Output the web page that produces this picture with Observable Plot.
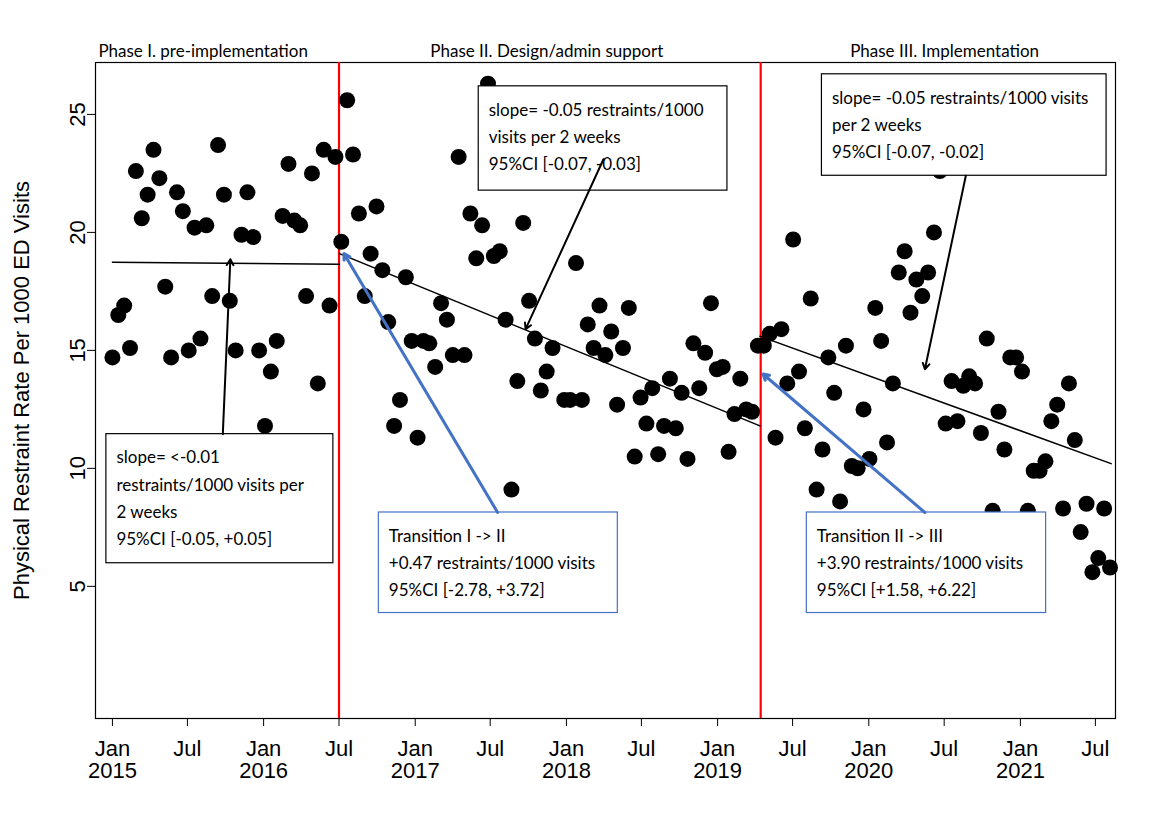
<!DOCTYPE html>
<html><head><meta charset="utf-8">
<script src="https://cdn.jsdelivr.net/npm/d3@7"></script>
<script src="https://cdn.jsdelivr.net/npm/@observablehq/plot@0.6"></script>
<style>body{margin:0;background:#fff}</style>
</head><body><div id="chart"></div>
<script>
const startDate = "2015-01-01";
const stepHours = 340;
const phase1 = [14.7,16.5,16.9,15.1,22.6,20.6,21.6,23.5,22.3,17.7,14.7,21.7,20.9,15.0,20.2,15.5,20.3,17.3,23.7,21.6,17.1,15.0,19.9,21.7,19.8,15.0,11.8,14.1,15.4,20.7,22.9,20.5,20.3,17.3,22.5,13.6,23.5,16.9,23.2];
const phase2 = [19.6,25.6,23.3,20.8,17.3,19.1,21.1,18.4,16.2,11.8,12.9,18.1,15.4,11.3,15.4,15.3,14.3,17.0,16.3,14.8,23.2,14.8,20.8,18.9,20.3,26.3,19.0,19.2,16.3,9.1,13.7,20.4,17.1,15.5,13.3,14.1,15.1,7.0,12.9,12.9,18.7,12.9,16.1,15.1,16.9,14.8,15.8,12.7,15.1,16.8,10.5,13.0,11.9,13.4,10.6,11.8,13.8,11.7,13.2,10.4,15.3,13.4,14.9,17.0,14.2,14.3,10.7,12.3,13.8,12.5,12.4];
const phase3 = [15.2,15.2,15.7,11.3,15.9,13.6,19.7,14.1,11.7,17.2,9.1,10.8,14.7,13.2,8.6,15.2,10.1,10.0,12.5,10.4,16.8,15.4,11.1,13.6,18.3,19.2,16.6,18.0,17.3,18.3,20.0,22.6,11.9,13.7,12.0,13.5,13.9,13.6,11.5,15.5,8.2,12.4,10.8,14.7,14.7,14.1,8.2,9.9,9.9,10.3,12.0,12.7,8.3,13.6,11.2,7.3,8.5,5.6,6.2,8.3,5.8];
const phaseChanges = ["2016-07-01","2019-04-15"];
const trendLines = [
  {seg:1, pts:[[2015.0,18.74],[2016.5,18.65]]},
  {seg:2, pts:[[2016.5,19.1],[2019.28,11.8]]},
  {seg:3, pts:[[2019.28,15.6],[2021.6,10.2]]}
];
const phaseLabels = [
  {x:2015.60, text:"Phase I. pre-implementation"},
  {x:2017.87, text:"Phase II. Design/admin support"},
  {x:2020.50, text:"Phase III. Implementation"}
];
const boxes = [
  {x1:2014.96,x2:2016.46,y1:11.45,y2:5.98,stroke:"black",lines:["slope= <-0.01","restraints/1000 visits per","2 weeks","95%CI [-0.05, +0.05]"]},
  {x1:2017.42,x2:2019.065,y1:26.19,y2:21.77,stroke:"black",lines:["slope= -0.05 restraints/1000","visits per 2 weeks","95%CI [-0.07, -0.03]"]},
  {x1:2019.69,x2:2021.57,y1:26.7,y2:22.4,stroke:"black",lines:["slope= -0.05 restraints/1000 visits","per 2 weeks","95%CI [-0.07, -0.02]"]},
  {x1:2016.76,x2:2018.34,y1:8.13,y2:3.87,stroke:"#4472C4",lines:["Transition I -> II","+0.47 restraints/1000 visits","95%CI [-2.78, +3.72]"]},
  {x1:2019.59,x2:2021.17,y1:8.13,y2:3.87,stroke:"#4472C4",lines:["Transition II -> III","+3.90 restraints/1000 visits","95%CI [+1.58, +6.22]"]}
];
const arrows = [
  {x1:2015.73,y1:11.45,x2:2015.78,y2:18.86,stroke:"black",w:2},
  {x1:2018.245,y1:23.1,x2:2017.73,y2:15.9,stroke:"black",w:2},
  {x1:2020.64,y1:22.4,x2:2020.37,y2:14.2,stroke:"black",w:2},
  {x1:2017.545,y1:8.13,x2:2016.53,y2:19.1,stroke:"#4472C4",w:3},
  {x1:2020.37,y1:8.13,x2:2019.30,y2:14.0,stroke:"#4472C4",w:3}
];
const yTicks = [5,10,15,20,25];

function dy(yr){const y=Math.floor(yr);const a=Date.UTC(y,0,1),b=Date.UTC(y+1,0,1);return new Date(a+(yr-y)*(b-a));}
const all = [...phase1,...phase2,...phase3];
const start = new Date(startDate+"T00:00:00Z");
const points = all.map((v,i)=>({date:d3.utcHour.offset(start,stepHours*i),value:v}));
const trend = trendLines.flatMap(t=>t.pts.map(p=>({seg:t.seg,date:dy(p[0]),value:p[1]})));
const xTicks = d3.utcMonth.every(6).range(new Date(Date.UTC(2015,0,1)),new Date(Date.UTC(2021,8,1)));
const fmt = d=>d.getUTCMonth()===0?`Jan\n${d.getUTCFullYear()}`:"Jul";

const chart = Plot.plot({
  width:1160,height:816,
  marginLeft:95,marginRight:45,marginTop:62,marginBottom:98,
  style:{fontFamily:"Liberation Sans, Arial, sans-serif",fontSize:"22px",background:"white"},
  x:{type:"utc",domain:[dy(2014.888),dy(2021.629)],ticks:xTicks,tickFormat:fmt,label:null,tickSize:8,tickPadding:14},
  y:{domain:[-0.6,27.2],ticks:yTicks,label:"Physical Restraint Rate Per 1000 ED Visits",labelAnchor:"center",labelArrow:"none",tickRotate:-90,tickSize:8,labelOffset:82},
  marks:[
    Plot.frame({stroke:"black",strokeWidth:1.2}),
    Plot.ruleX(phaseChanges.map(d=>new Date(d+"T00:00:00Z")),{stroke:"red",strokeWidth:2.2}),
    Plot.line(trend,{x:"date",y:"value",z:"seg",stroke:"black",strokeWidth:1.5}),
    Plot.dot(points,{x:"date",y:"value",r:8,fill:"black"}),
    Plot.rect(boxes,{x1:d=>dy(d.x1),x2:d=>dy(d.x2),y1:"y1",y2:"y2",fill:"white",stroke:"stroke",strokeWidth:1.2}),
    Plot.text(boxes,{x:d=>dy(d.x1),y:"y1",text:d=>d.lines.join("\n"),dx:10,dy:10,textAnchor:"start",lineAnchor:"top",lineHeight:1.6,fontSize:17,fontFamily:"Lato, sans-serif",fill:"black"}),
    Plot.arrow(arrows,{x1:d=>dy(d.x1),y1:"y1",x2:d=>dy(d.x2),y2:"y2",stroke:"stroke",strokeWidth:"w",headLength:10}),
    Plot.text(phaseLabels,{x:d=>dy(d.x),frameAnchor:"top",dy:-6,lineAnchor:"bottom",text:"text",fontSize:17,fontFamily:"Lato, sans-serif",fill:"black"})
  ]
});
document.getElementById("chart").append(chart);
</script></body></html>
